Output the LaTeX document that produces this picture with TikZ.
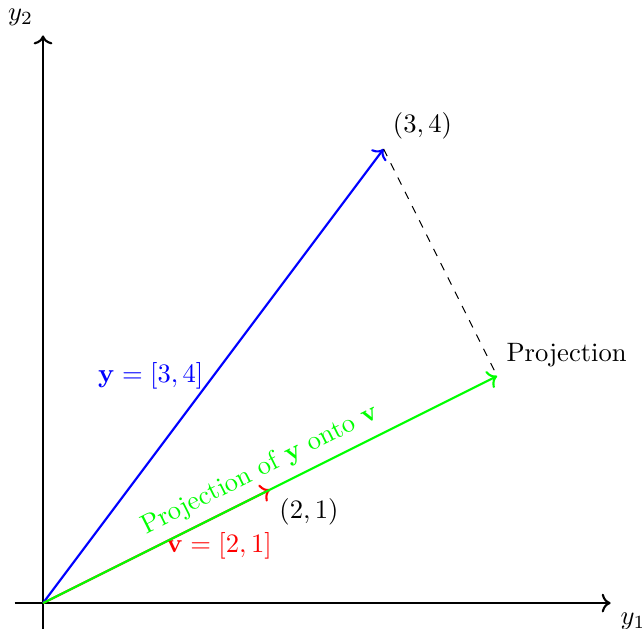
\documentclass[tikz,border=0pt]{standalone}
\usepackage{amsmath,amssymb}
\usepackage{tikz}
\usetikzlibrary{calc,arrows.meta}
\usepackage{xcolor}

\begin{document}
\begin{tikzpicture}[scale=1.5,
  axis/.style={thick,->},
  vec/.style={thick,->}]
\useasboundingbox (-0.379,-0.220) rectangle (5.277,5.313);
% axes
\coordinate (O) at (0,0);
\coordinate (xl) at (-0.25,0);
\coordinate (xr) at (5,0);
\coordinate (yb) at (0,-0.25);
\coordinate (yt) at (0,5);
\draw[axis] (xl) -- (xr) node[below right] {$y_1$};
\draw[axis] (yb) -- (yt) node[above left] {$y_2$};
% vectors
\coordinate (y) at (3,4);
\coordinate (v) at (2,1);
\coordinate (p) at (4,2);
\draw[vec,blue] (O) -- (y) node[midway,left] {$\mathbf{y} = [3,4]$};
\draw[vec,red] (O) -- (v) node[midway,right] {$\mathbf{v} = [2,1]$};
\draw[vec,green] (O) -- (p) node[midway,above,sloped] {Projection of $\mathbf{y}$ onto $\mathbf{v}$};
\draw[dashed] (y) -- (p);
% point labels
\node[above right] (ylab) at (y) {$(3,4)$};
\node[below right] (vlab) at (v) {$(2,1)$};
\node[above right] (plab) at (p) {Projection};
\end{tikzpicture}
\end{document}
